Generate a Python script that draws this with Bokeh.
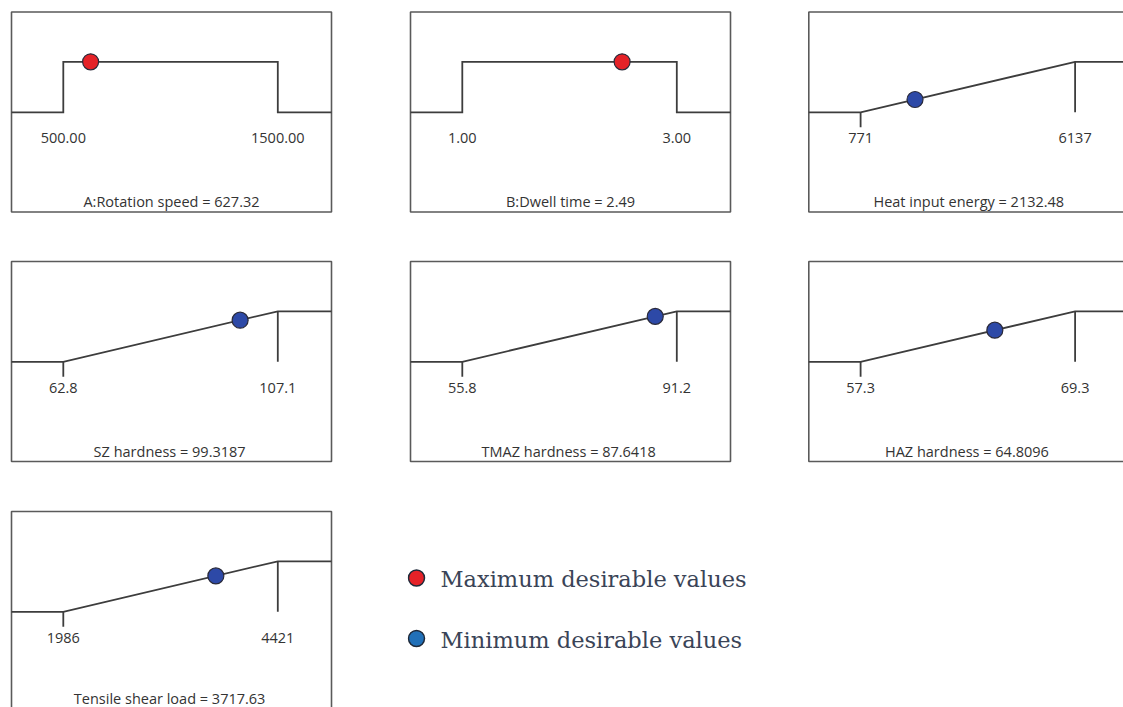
from bokeh.plotting import figure
from bokeh.models import Range1d
from bokeh.layouts import column, row
from bokeh.core.properties import value
from bokeh.embed import file_html
from bokeh.resources import INLINE

# ---------------- data ----------------
titles = ["A:Rotation speed", "B:Dwell time", "Heat input energy",
          "SZ hardness ", "TMAZ hardness ", "HAZ hardness ", "Tensile shear load "]
lows = [500.00, 1.00, 771, 62.8, 55.8, 57.3, 1986]
highs = [1500.00, 3.00, 6137, 107.1, 91.2, 69.3, 4421]
values = [627.32, 2.49, 2132.48, 99.3187, 87.6418, 64.8096, 3717.63]
low_labels = ["500.00", "1.00", "771", "62.8", "55.8", "57.3", "1986"]
high_labels = ["1500.00", "3.00", "6137", "107.1", "91.2", "69.3", "4421"]
value_labels = ["627.32", "2.49", "2132.48", "99.3187", "87.6418", "64.8096", "3717.63"]
goals = ["range", "range", "max", "max", "max", "max", "max"]
legend_labels = ["Maximum desirable values", "Minimum desirable values"]

# ---------------- layout constants (page pixels) ----------------
CELL_X = [0, 407, 806, 1123]
CELL_Y = [0, 258, 508, 707]
PANEL_X = [11, 410, 808.3]
PANEL_Y = [11.5, 261, 511]
PANEL_W, PANEL_H = 320, 200
# offsets within a panel
OFF_LO, OFF_HI = 51.8, 266.3
OFF_ONE, OFF_ZERO = 49.8, 100.3
TICK_LEN = 15
OFF_LABEL = 126
OFF_TITLE = 189.5

LINE_C = "#3d3d3d"
BORDER_C = "#5a5a5a"
TEXT_C = "#333333"
RED = "#e52228"
BLUE_PT = "#2d49a7"
BLUE_LEG = "#2170b8"
PANEL_FONT = value("Open Sans")
PANEL_FS = "14.5px"


def make_panel(i):
    r, c = divmod(i, 3)
    w = CELL_X[c + 1] - CELL_X[c]
    h = CELL_Y[r + 1] - CELL_Y[r]
    pl = PANEL_X[c] - CELL_X[c]      # panel left within cell
    pt = PANEL_Y[r] - CELL_Y[r]      # panel top within cell
    lo, hi, v = lows[i], highs[i], values[i]
    ppu = (hi - lo) / (OFF_HI - OFF_LO)
    x_lo_px = pl + OFF_LO
    y_one_px, y_zero_px = pt + OFF_ONE, pt + OFF_ZERO

    def xd(px):
        return lo + (px - x_lo_px) * ppu

    def yd(py):
        return (y_zero_px - py) / (y_zero_px - y_one_px)

    p = figure(width=w, height=h, output_backend="svg", toolbar_location=None,
               x_range=Range1d(xd(0), xd(w)), y_range=Range1d(yd(h), yd(0)),
               x_axis_location=None, y_axis_location=None, min_border=0,
               outline_line_color=None, tools="")
    p.grid.visible = False

    # panel frame
    p.quad(left=[xd(pl)], right=[xd(pl + PANEL_W)], top=[yd(pt)], bottom=[yd(pt + PANEL_H)],
           fill_color=None, line_color=BORDER_C, line_width=1.6)

    if goals[i] == "range":
        xs = [xd(pl), lo, lo, hi, hi, xd(pl + PANEL_W)]
        ys = [0, 0, 1, 1, 0, 0]
        p.line(xs, ys, line_color=LINE_C, line_width=1.8, line_join="miter")
        py = 1.0
        color = RED
    else:
        xs = [xd(pl), lo, hi, xd(pl + PANEL_W)]
        ys = [0, 0, 1, 1]
        p.line(xs, ys, line_color=LINE_C, line_width=1.8, line_join="miter")
        p.segment(x0=[lo, hi], y0=[0, 1], x1=[lo, hi], y1=[yd(y_zero_px + TICK_LEN), 0],
                  line_color=LINE_C, line_width=1.8)
        py = (v - lo) / (hi - lo)
        color = BLUE_PT

    p.scatter([v], [py], marker="circle", size=16, fill_color=color,
              line_color="#2a2a3a", line_width=1.2)

    p.text(x=[lo, hi], y=[yd(pt + OFF_LABEL)] * 2, text=[low_labels[i], high_labels[i]],
           text_align="center", text_baseline="middle", text_font=PANEL_FONT,
           text_font_size=PANEL_FS, text_color=TEXT_C)
    title_py = min(pt + OFF_TITLE, h - 9)
    p.text(x=[xd(pl + PANEL_W / 2)], y=[yd(title_py)],
           text=[titles[i] + " = " + value_labels[i]],
           text_align="center", text_baseline="middle", text_font=PANEL_FONT,
           text_font_size=PANEL_FS, text_color=TEXT_C)
    return p


panels = [make_panel(i) for i in range(7)]

# legend figure (occupies the rest of the bottom row)
LX0 = CELL_X[1]
LW, LH = CELL_X[3] - CELL_X[1], CELL_Y[3] - CELL_Y[2]
leg = figure(width=LW, height=LH, output_backend="svg", toolbar_location=None,
             x_range=Range1d(LX0, LX0 + LW), y_range=Range1d(CELL_Y[3], CELL_Y[2]),
             x_axis_location=None, y_axis_location=None, min_border=0,
             outline_line_color=None, tools="")
leg.grid.visible = False
leg.scatter([416, 416], [577.5, 638], marker="circle", size=16,
            fill_color=[RED, BLUE_LEG], line_color="#1f2a3a", line_width=1.5)
leg.text(x=[440, 440], y=[578.5, 639], text=legend_labels, text_align="left",
         text_baseline="middle", text_font=value("DejaVu Serif"),
         text_font_size="22.5px", text_color="#3a4457")

layout = column(row(panels[0], panels[1], panels[2]),
                row(panels[3], panels[4], panels[5]),
                row(panels[6], leg))

open("out.html", "w").write(file_html(layout, INLINE))
